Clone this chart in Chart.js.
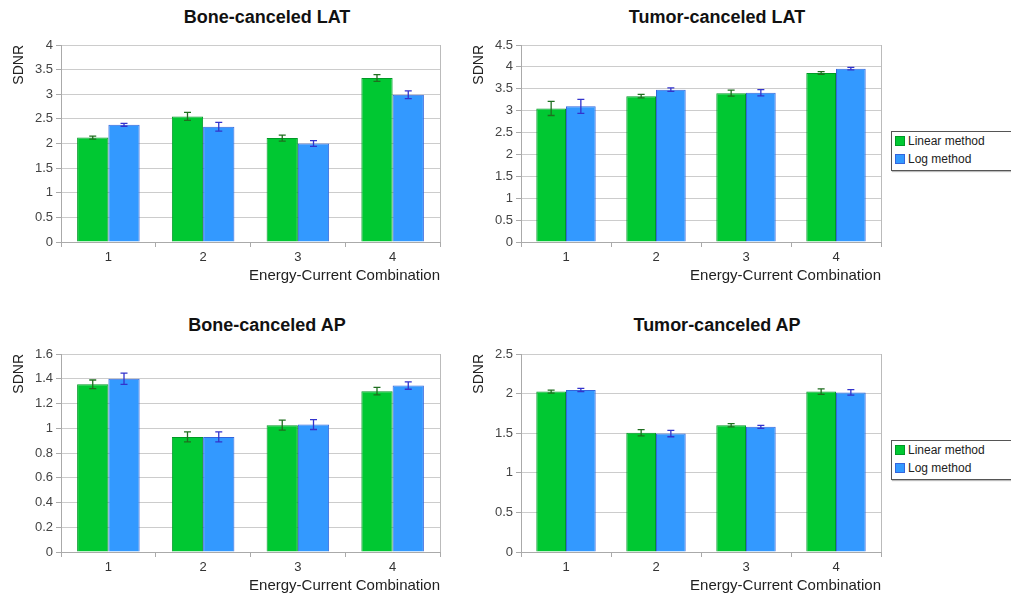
<!DOCTYPE html>
<html>
<head>
<meta charset="utf-8">
<script src="https://cdn.jsdelivr.net/npm/chart.js@4.4.1/dist/chart.umd.min.js"></script>
<style>
  body { margin: 0; background: #fff; width: 1011px; height: 598px; overflow: hidden; position: relative;
         font-family: "Liberation Sans", Arial, sans-serif; }
  .panel { position: absolute; }
  .title { position: absolute; width: 300px; text-align: center; font-weight: bold; font-size: 18px; color: #111; }
  .legend { position: absolute; left: 891px; width: 130px; height: 38px; border: 1px solid #555;
            background: #fff; font-size: 12px; color: #222; box-shadow: 1px 1px 1px #bbb; }
  .legend div { height: 18px; line-height: 18px; padding-left: 3px; }
  .legend span { display: inline-block; width: 8px; height: 8px; margin-right: 3px; vertical-align: -1px; }
</style>
</head>
<body>
<div class="title" style="left:117px;top:7px">Bone-canceled LAT</div>
<div class="title" style="left:567px;top:7px">Tumor-canceled LAT</div>
<div class="title" style="left:117px;top:315px">Bone-canceled AP</div>
<div class="title" style="left:567px;top:315px">Tumor-canceled AP</div>

<div class="panel" style="left:0;top:0;width:450px;height:288px"><canvas id="boneLat"></canvas></div>
<div class="panel" style="left:460px;top:0;width:430px;height:288px"><canvas id="tumorLat"></canvas></div>
<div class="panel" style="left:0;top:310px;width:450px;height:288px"><canvas id="boneAp"></canvas></div>
<div class="panel" style="left:460px;top:310px;width:430px;height:288px"><canvas id="tumorAp"></canvas></div>

<div class="legend" style="top:131px">
  <div><span style="background:#00c832;border:1px solid #009926"></span>Linear method</div>
  <div><span style="background:#3399ff;border:1px solid #3366dd"></span>Log method</div>
</div>
<div class="legend" style="top:440px">
  <div><span style="background:#00c832;border:1px solid #009926"></span>Linear method</div>
  <div><span style="background:#3399ff;border:1px solid #3366dd"></span>Log method</div>
</div>

<script>
const categories = ['1', '2', '3', '4'];

const boneLatLinear = [2.12, 2.55, 2.11, 3.33];
const boneLatLinearErr = [0.03, 0.08, 0.06, 0.07];
const boneLatLog = [2.38, 2.34, 2.00, 2.99];
const boneLatLogErr = [0.03, 0.09, 0.06, 0.08];

const tumorLatLinear = [3.05, 3.33, 3.40, 3.86];
const tumorLatLinearErr = [0.16, 0.04, 0.07, 0.03];
const tumorLatLog = [3.10, 3.48, 3.41, 3.96];
const tumorLatLogErr = [0.16, 0.04, 0.07, 0.03];

const boneApLinear = [1.355, 0.93, 1.025, 1.30];
const boneApLinearErr = [0.035, 0.04, 0.04, 0.03];
const boneApLog = [1.40, 0.93, 1.03, 1.345];
const boneApLogErr = [0.045, 0.04, 0.04, 0.03];

const tumorApLinear = [2.025, 1.505, 1.60, 2.025];
const tumorApLinearErr = [0.02, 0.04, 0.02, 0.035];
const tumorApLog = [2.045, 1.495, 1.58, 2.015];
const tumorApLogErr = [0.02, 0.04, 0.02, 0.035];

Chart.defaults.font.family = '"Liberation Sans", Arial, sans-serif';
Chart.defaults.color = '#444';

// error bars + plot frame
const errorBars = {
  id: 'errorBars',
  afterDatasetsDraw(chart) {
    const ctx = chart.ctx;
    const y = chart.scales.y;
    chart.data.datasets.forEach((ds, i) => {
      const meta = chart.getDatasetMeta(i);
      ctx.save();
      ctx.strokeStyle = ds.errorColor;
      ctx.lineWidth = 1.3;
      meta.data.forEach((bar, j) => {
        const top = y.getPixelForValue(ds.data[j] + ds.errors[j]);
        const bot = y.getPixelForValue(ds.data[j] - ds.errors[j]);
        ctx.beginPath();
        ctx.moveTo(bar.x, top); ctx.lineTo(bar.x, bot);
        ctx.moveTo(bar.x - 3.5, top); ctx.lineTo(bar.x + 3.5, top);
        ctx.moveTo(bar.x - 3.5, bot); ctx.lineTo(bar.x + 3.5, bot);
        ctx.stroke();
      });
      ctx.restore();
    });
  },
  beforeDatasetsDraw(chart) {
    const a = chart.chartArea, ctx = chart.ctx;
    ctx.save();
    ctx.strokeStyle = '#bbb';
    ctx.lineWidth = 1;
    ctx.beginPath();
    ctx.moveTo(a.right + 0.5, a.top);
    ctx.lineTo(a.right + 0.5, a.bottom);
    ctx.stroke();
    ctx.restore();
  }
};

function createChart(id, linear, linearErr, log, logErr, yMax, yStep, topPad, rightPad) {
  return new Chart(document.getElementById(id), {
    type: 'bar',
    data: {
      labels: categories,
      datasets: [
        {
          label: 'Linear method',
          data: linear,
          errors: linearErr,
          errorColor: '#1f6f1f',
          backgroundColor: '#00c832',
          borderColor: '#009926',
          borderWidth: 1,
          categoryPercentage: 0.66,
          barPercentage: 1.0
        },
        {
          label: 'Log method',
          data: log,
          errors: logErr,
          errorColor: '#3333cc',
          backgroundColor: '#3399ff',
          borderColor: '#3366dd',
          borderWidth: 1,
          categoryPercentage: 0.66,
          barPercentage: 1.0
        }
      ]
    },
    options: {
      responsive: true,
      maintainAspectRatio: false,
      animation: false,
      layout: { padding: { top: topPad, right: rightPad, left: 0, bottom: 0 } },
      scales: {
        x: {
          offset: true,
          grid: { offset: true, drawOnChartArea: false, tickLength: 5, color: '#aaa' },
          border: { color: '#aaa' },
          ticks: { font: { size: 13 }, padding: 3, color: '#333' },
          title: {
            display: true,
            text: 'Energy-Current Combination',
            align: 'end',
            font: { size: 15 },
            color: '#222',
            padding: { top: 0, bottom: 3 }
          },
          afterFit(scale) { scale.height = 46; }
        },
        y: {
          min: 0,
          max: yMax,
          ticks: {
            stepSize: yStep,
            font: { size: 13 },
            padding: 3,
            color: '#444',
            callback: v => String(Math.round(v * 10) / 10)
          },
          grid: { color: '#ccc', tickLength: 5, tickColor: '#aaa' },
          border: { color: '#aaa' },
          title: {
            display: true,
            text: 'SDNR',
            align: 'end',
            font: { size: 14 },
            color: '#222',
            padding: { top: 11, bottom: 0 }
          },
          afterFit(scale) { scale.width = 61; }
        }
      },
      plugins: {
        legend: { display: false },
        tooltip: { enabled: false }
      }
    },
    plugins: [errorBars]
  });
}

createChart('boneLat', boneLatLinear, boneLatLinearErr, boneLatLog, boneLatLogErr, 4, 0.5, 45, 10);
createChart('tumorLat', tumorLatLinear, tumorLatLinearErr, tumorLatLog, tumorLatLogErr, 4.5, 0.5, 45, 9);
createChart('boneAp', boneApLinear, boneApLinearErr, boneApLog, boneApLogErr, 1.6, 0.2, 44, 10);
createChart('tumorAp', tumorApLinear, tumorApLinearErr, tumorApLog, tumorApLogErr, 2.5, 0.5, 44, 9);
</script>
</body>
</html>
